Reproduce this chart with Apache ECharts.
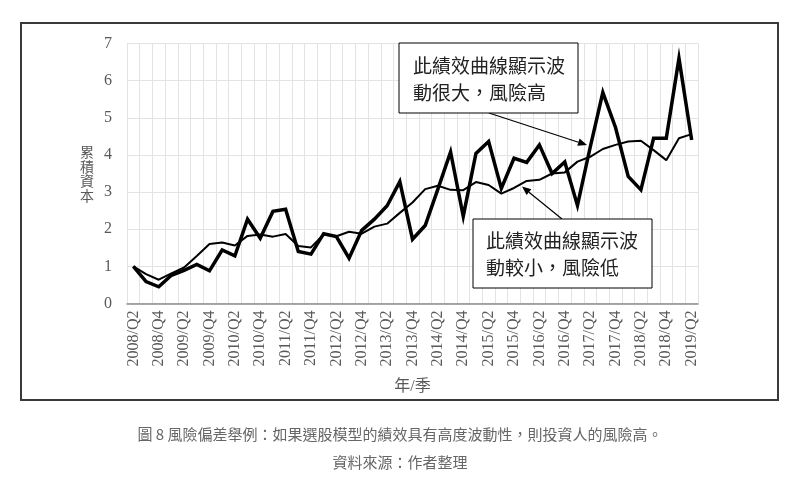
<!DOCTYPE html>
<html><head><meta charset="utf-8">
<script src="https://cdn.jsdelivr.net/npm/echarts@6/dist/echarts.min.js"></script>
<style>html,body{margin:0;padding:0;background:#fff}#c{width:800px;height:489px}</style>
</head><body><div id="c"></div>
<script>
const categories = ["2008/Q2","2008/Q3","2008/Q4","2009/Q1","2009/Q2","2009/Q3","2009/Q4","2010/Q1","2010/Q2","2010/Q3","2010/Q4","2011/Q1","2011/Q2","2011/Q3","2011/Q4","2012/Q1","2012/Q2","2012/Q3","2012/Q4","2013/Q1","2013/Q2","2013/Q3","2013/Q4","2014/Q1","2014/Q2","2014/Q3","2014/Q4","2015/Q1","2015/Q2","2015/Q3","2015/Q4","2016/Q1","2016/Q2","2016/Q3","2016/Q4","2017/Q1","2017/Q2","2017/Q3","2017/Q4","2018/Q1","2018/Q2","2018/Q3","2018/Q4","2019/Q1","2019/Q2"];
const volatileSeries = [1.00,0.59,0.45,0.76,0.89,1.05,0.88,1.44,1.28,2.27,1.76,2.48,2.54,1.40,1.33,1.88,1.80,1.22,1.97,2.27,2.63,3.28,1.73,2.10,3.08,4.08,2.35,4.04,4.36,3.10,3.91,3.80,4.27,3.50,3.81,2.64,4.20,5.68,4.74,3.42,3.06,4.45,4.45,6.60,4.40];
const stableSeries = [1.00,0.79,0.64,0.81,0.97,1.28,1.60,1.64,1.56,1.82,1.86,1.80,1.87,1.55,1.51,1.86,1.81,1.93,1.88,2.07,2.15,2.44,2.72,3.08,3.17,3.06,3.05,3.27,3.19,2.96,3.11,3.30,3.33,3.50,3.53,3.82,3.95,4.16,4.27,4.36,4.38,4.13,3.86,4.45,4.56];
const yTicks = [0,1,2,3,4,5,6,7];
const note1 = ["此績效曲線顯示波","動很大，風險高"];
const note2 = ["此績效曲線顯示波","動較小，風險低"];
const caption1 = "圖 8 風險偏差舉例：如果選股模型的績效具有高度波動性，則投資人的風險高。";
const caption2 = "資料來源：作者整理";

const serif = "'Liberation Serif','Noto Sans CJK TC',serif";
const cjk = "'Noto Sans CJK TC',sans-serif";

function arrow(x1,y1,x2,y2){
  const dx=x2-x1, dy=y2-y1, L=Math.hypot(dx,dy), ux=dx/L, uy=dy/L;
  const bx=x2-9*ux, by=y2-9*uy, px=-uy, py=ux;
  return [
    {type:'line',shape:{x1:x1,y1:y1,x2:bx,y2:by},style:{stroke:'#000',lineWidth:1.2},z:20},
    {type:'polygon',shape:{points:[[x2,y2],[bx+3.8*px,by+3.8*py],[bx-3.8*px,by-3.8*py]]},style:{fill:'#000'},z:20}
  ];
}
function box(x,y,w,h,lines,tx,ty){
  return [
    {type:'rect',shape:{x:x,y:y,width:w,height:h},style:{fill:'#fff',stroke:'#000',lineWidth:1},z:20},
    {type:'text',x:tx,y:ty,style:{text:lines.join('\n'),font:"19px "+cjk,fill:'#222',lineHeight:27,verticalAlign:'top'},z:21}
  ];
}

const chart = echarts.init(document.getElementById('c'),null,{renderer:'canvas'});
chart.setOption({
  animation:false,
  backgroundColor:'#fff',
  grid:{left:127,right:102,top:43.5,bottom:185.5,containLabel:false},
  xAxis:{
    type:'category',data:categories,boundaryGap:true,
    name:'年/季',nameLocation:'middle',nameGap:75,
    nameTextStyle:{fontFamily:serif,fontSize:16,color:'#595959'},
    axisLine:{lineStyle:{color:'#8c8c8c',width:1.5}},
    axisTick:{show:false,interval:0},
    axisLabel:{interval:1,rotate:90,margin:7,fontFamily:serif,fontSize:16,color:'#595959'},
    splitLine:{show:true,interval:0,lineStyle:{color:'#e3e3e3',width:1}}
  },
  yAxis:{
    type:'value',min:yTicks[0],max:yTicks[yTicks.length-1],interval:1,
    name:'累\n積\n資\n本',nameLocation:'middle',nameGap:33,nameRotate:0,
    nameTextStyle:{fontFamily:cjk,fontSize:14,color:'#595959',lineHeight:14.5},
    axisLine:{show:false},axisTick:{show:false},
    axisLabel:{margin:15,fontFamily:serif,fontSize:16,color:'#595959'},
    splitLine:{lineStyle:{color:'#e3e3e3',width:1}}
  },
  series:[
    {type:'line',data:stableSeries,showSymbol:false,symbol:'none',lineStyle:{color:'#000',width:2},z:3},
    {type:'line',data:volatileSeries,showSymbol:false,symbol:'none',lineStyle:{color:'#000',width:3.5,join:'miter'},z:4}
  ],
  graphic:[
    {type:'rect',shape:{x:21,y:23,width:757,height:377},style:{fill:null,stroke:'#3a3a3a',lineWidth:2},z:30},
    ...arrow(489,113,587,145),
    ...arrow(562,219,522,186.5),
    ...box(399,43,179,70,note1,413,52),
    ...box(473,219,179,69,note2,486,227),
    {type:'text',x:400,y:434,style:{text:caption1,font:"15px "+cjk,fill:'#666',align:'center',verticalAlign:'middle'},z:30},
    {type:'text',x:400,y:462,style:{text:caption2,font:"15px "+cjk,fill:'#666',align:'center',verticalAlign:'middle'},z:30}
  ]
});
</script></body></html>
